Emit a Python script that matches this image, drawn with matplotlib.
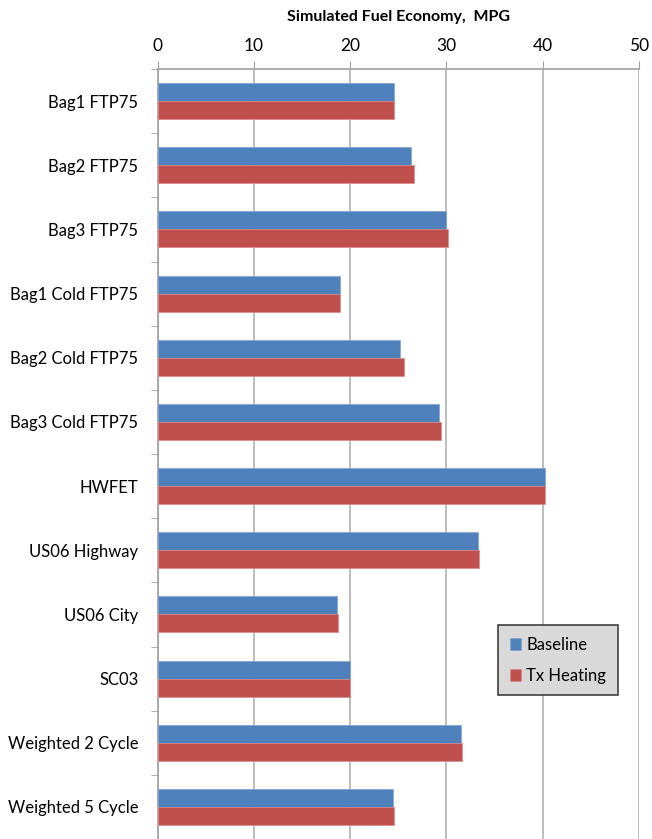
import matplotlib
matplotlib.use("Agg")
import matplotlib.pyplot as plt
import numpy as np

categories = ["Bag1 FTP75", "Bag2 FTP75", "Bag3 FTP75", "Bag1 Cold FTP75",
              "Bag2 Cold FTP75", "Bag3 Cold FTP75", "HWFET", "US06 Highway",
              "US06 City", "SC03", "Weighted 2 Cycle", "Weighted 5 Cycle"]
baseline = [24.6, 26.3, 30.0, 19.0, 25.2, 29.2, 40.3, 33.3, 18.6, 20.0, 31.5, 24.5]
tx_heating = [24.6, 26.6, 30.2, 19.0, 25.6, 29.5, 40.3, 33.4, 18.7, 20.0, 31.65, 24.6]
xticks = [0, 10, 20, 30, 40, 50]

plt.rcParams['font.family'] = ['Lato', 'DejaVu Sans']

fig = plt.figure(figsize=(6.52, 8.39), dpi=100)
ax = fig.add_axes([157.7/652, 0.0, 481/652, 770/839])

n = len(categories)
y = np.arange(n)
h = 0.28
blue = "#4F81BD"
red = "#C0504D"
ax.barh(y - h/2, baseline, height=h, color=blue, edgecolor="#7fa3d1", linewidth=0.5, label="Baseline", zorder=3)
ax.barh(y + h/2, tx_heating, height=h, color=red, edgecolor="#d98987", linewidth=0.5, label="Tx Heating", zorder=3)

ax.set_xlim(0, 50)
ax.set_ylim(n - 0.5, -0.5)
ax.xaxis.tick_top()
ax.xaxis.set_label_position("top")
ax.set_xticks(xticks)
ax.set_xticklabels([str(t) for t in xticks], fontsize=12.5)
ax.set_xlabel("Simulated Fuel Economy,  MPG", fontsize=11.5, fontweight="bold", labelpad=12)

ax.set_yticks(y)
ax.set_yticklabels(categories, fontsize=12)
ax.tick_params(axis='y', which='major', length=0, pad=14)
ax.set_yticks(np.arange(n + 1) - 0.5, minor=True)
ax.tick_params(axis='y', which='minor', length=5, color="#a0a0a0", direction='out')
ax.tick_params(axis='x', length=6, color="#a0a0a0", direction='out', pad=5)

ax.grid(axis='x', color="#b0b0b0", linewidth=1.2, zorder=0)
for s in ["right", "bottom"]:
    ax.spines[s].set_visible(False)
ax.spines["top"].set_color("#a0a0a0")
ax.spines["left"].set_color("#a0a0a0")
ax.spines["top"].set_linewidth(1.2)
ax.spines["left"].set_linewidth(1.2)

leg = ax.legend(loc="upper left", bbox_to_anchor=((498-157.7)/481, (839-625)/770),
                fontsize=12, frameon=True, fancybox=False, handlelength=0.7,
                handleheight=0.7, handletextpad=0.3, labelspacing=0.9,
                borderpad=0.7, borderaxespad=0)
leg.get_frame().set_facecolor("#d9d9d9")
leg.get_frame().set_edgecolor("#404040")
leg.get_frame().set_linewidth(1.2)
leg.get_frame().set_alpha(1)

fig.savefig("out.png", dpi=100)
